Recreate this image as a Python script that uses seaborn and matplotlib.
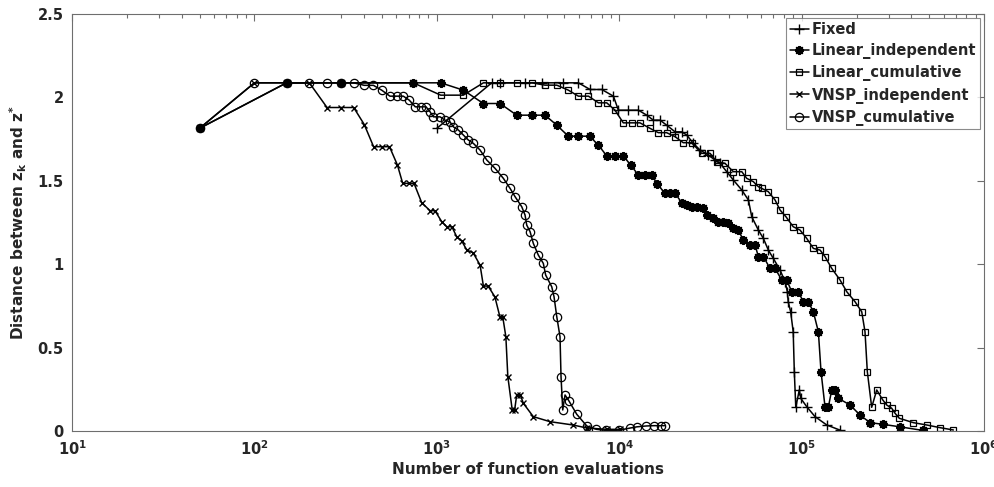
import numpy as np
import pandas as pd
import matplotlib
matplotlib.use("Agg")
import matplotlib.pyplot as plt
from matplotlib.ticker import FixedLocator, FuncFormatter, LogLocator, NullFormatter
import seaborn as sns

# ---------------- data ----------------
fixed_x = [1000, 2000, 2220, 3045, 3760, 4940, 5970, 6920, 8020, 9290, 9890, 11220, 12730,
           14150, 15380, 16740, 18200, 20230, 22020, 23440, 25480, 27720, 30780, 33480, 35700,
           38830, 42230, 46980, 51080, 53250, 57900, 61680, 65660, 69940, 76150, 81160, 83500,
           84410, 87030, 89890, 91150, 92850, 97070, 98860, 106600, 118400, 137300, 162500]
fixed_y = [1.815, 2.088, 2.088, 2.088, 2.088, 2.088, 2.088, 2.048, 2.048, 2.008, 1.924, 1.924, 1.924,
           1.894, 1.864, 1.864, 1.834, 1.794, 1.794, 1.775, 1.725, 1.685, 1.655, 1.625, 1.605,
           1.555, 1.505, 1.445, 1.385, 1.285, 1.205, 1.155, 1.085, 1.035, 0.965, 0.895, 0.835,
           0.775, 0.715, 0.595, 0.356, 0.142, 0.246, 0.196, 0.146, 0.086, 0.036, 0.005]

lin_ind_x = [50, 150, 300, 743, 1050, 1397, 1800, 2220, 2740, 3330, 3920, 4545, 5260, 5970, 6880,
             7690, 8540, 9480, 10520, 11550, 12730, 13840, 15060, 16170, 17820, 18970, 20230,
             22020, 23440, 24940, 26600, 28910, 30200, 32810, 34920, 37240, 39630, 42230, 44970,
             47870, 52140, 55590, 57900, 61680, 67140, 71500, 77800, 82830, 88260, 95940, 102100,
             108800, 115900, 123500, 127700, 134400, 140000, 146200, 152400, 158900, 184200,
             208800, 237000, 279300, 346000, 464300]
lin_ind_y = [1.815, 2.088, 2.088, 2.088, 2.088, 2.044, 1.964, 1.964, 1.894, 1.894, 1.894, 1.834,
             1.768, 1.768, 1.768, 1.714, 1.650, 1.650, 1.650, 1.595, 1.535, 1.535, 1.535, 1.481,
             1.425, 1.425, 1.425, 1.369, 1.355, 1.345, 1.345, 1.335, 1.295, 1.275, 1.255, 1.255,
             1.245, 1.215, 1.205, 1.145, 1.115, 1.115, 1.045, 1.045, 0.975, 0.975, 0.905, 0.905,
             0.835, 0.835, 0.775, 0.775, 0.715, 0.595, 0.356, 0.142, 0.142, 0.246, 0.246, 0.196,
             0.156, 0.096, 0.050, 0.040, 0.025, 0.003]

lin_cum_x = [50, 150, 300, 743, 1050, 1397, 1800, 2220, 2740, 3330, 3920, 4545, 5260, 5970, 6780,
             7690, 8540, 9480, 10520, 11700, 12990, 14750, 16380, 18200, 20230, 22420, 24940,
             28300, 31480, 34250, 38020, 42230, 46980, 50000, 54360, 57900, 60390, 65660, 71500,
             76150, 82000, 89890, 97940, 106600, 115900, 126200, 134400, 146200, 162500, 176800,
             196200, 213500, 222500, 229100, 242100, 258000, 278500, 292600, 311800, 325300,
             343300, 409600, 485000, 573600, 679200]
lin_cum_y = [1.815, 2.088, 2.088, 2.088, 2.014, 2.014, 2.088, 2.088, 2.088, 2.088, 2.074, 2.074,
             2.044, 2.008, 2.008, 1.968, 1.968, 1.924, 1.848, 1.848, 1.848, 1.815, 1.789, 1.789,
             1.765, 1.729, 1.729, 1.665, 1.665, 1.615, 1.605, 1.555, 1.555, 1.515, 1.495, 1.465,
             1.455, 1.435, 1.385, 1.325, 1.285, 1.225, 1.205, 1.155, 1.095, 1.085, 1.045, 0.975,
             0.905, 0.835, 0.775, 0.715, 0.595, 0.356, 0.142, 0.246, 0.186, 0.156, 0.136, 0.106,
             0.076, 0.050, 0.036, 0.020, 0.006]

vnsp_ind_x = [50, 100, 200, 250, 300, 350, 400, 450, 500, 550, 608, 650, 700, 750, 826, 918, 977,
              1064, 1133, 1209, 1285, 1370, 1460, 1580, 1726, 1800, 1910, 2080, 2220, 2300, 2390,
              2450, 2590, 2670, 2740, 2870, 2980, 3380, 4170, 5580, 6640, 8540, 10090]
vnsp_ind_y = [1.815, 2.088, 2.088, 1.940, 1.940, 1.940, 1.838, 1.705, 1.705, 1.705, 1.595, 1.485,
              1.485, 1.485, 1.369, 1.321, 1.321, 1.255, 1.225, 1.225, 1.165, 1.139, 1.085, 1.069,
              0.995, 0.869, 0.869, 0.805, 0.682, 0.682, 0.565, 0.326, 0.126, 0.126, 0.216, 0.216,
              0.166, 0.086, 0.056, 0.036, 0.018, 0.010, 0.010]

vnsp_cum_x = [50, 100, 150, 200, 250, 300, 350, 400, 449, 500, 553, 608, 655, 706, 762, 816, 873,
              918, 957, 1042, 1109, 1181, 1232, 1312, 1397, 1488, 1585, 1725, 1878, 2085, 2316,
              2520, 2685, 2920, 3045, 3110, 3245, 3380, 3600, 3835, 3950, 4265, 4390, 4545, 4735,
              4795, 4900, 5045, 5300, 5850, 6640, 7500, 8500, 10000, 11500, 12500, 14000, 15500,
              17000, 17800]
vnsp_cum_y = [1.815, 2.088, 2.088, 2.088, 2.088, 2.088, 2.088, 2.073, 2.073, 2.043, 2.008, 2.008,
              2.008, 1.984, 1.944, 1.944, 1.944, 1.914, 1.884, 1.884, 1.864, 1.854, 1.824, 1.805,
              1.775, 1.745, 1.725, 1.685, 1.625, 1.575, 1.515, 1.455, 1.405, 1.345, 1.295, 1.235,
              1.195, 1.125, 1.055, 1.005, 0.935, 0.865, 0.805, 0.685, 0.565, 0.326, 0.126, 0.216,
              0.180, 0.100, 0.030, 0.010, 0.003, 0.005, 0.018, 0.025, 0.030, 0.032, 0.032, 0.032]

series_names = ["Fixed", "Linear_independent", "Linear_cumulative",
                "VNSP_independent", "VNSP_cumulative"]
x_label = "Number of function evaluations"
y_label = r"Distance between z$_{\mathbf{k}}$ and z$^{\mathbf{*}}$"
y_ticks = [0, 0.5, 1, 1.5, 2, 2.5]
y_tick_labels = ["0", "0.5", "1", "1.5", "2", "2.5"]

# ---------------- styling ----------------
sns.set_style("white")
plt.rcParams["font.family"] = ["DejaVu Sans"]
plt.rcParams["font.weight"] = "bold"
plt.rcParams["mathtext.fontset"] = "dejavusans"
plt.rcParams["mathtext.default"] = "bf"

fig = plt.figure(figsize=(9.95, 4.87), dpi=100)
ax = fig.add_axes([0.0724, 0.115, 0.9166, 0.856])

data = [(fixed_x, fixed_y), (lin_ind_x, lin_ind_y), (lin_cum_x, lin_cum_y),
        (vnsp_ind_x, vnsp_ind_y), (vnsp_cum_x, vnsp_cum_y)]
markers = ["+", (8, 2, 0), "s", "x", "o"]
msizes = [7, 6.5, 5, 5, 6]
mews = [1.0, 1.4, 0.9, 1.0, 0.9]
mfcs = ["k", "k", "none", "k", "none"]

for name, (xs, ys), mk, ms, mew, mfc in zip(series_names, data, markers, msizes, mews, mfcs):
    df = pd.DataFrame({"x": xs, "y": ys})
    sns.lineplot(data=df, x="x", y="y", ax=ax, color="black", linewidth=1.1,
                 marker=mk, markersize=ms, markerfacecolor=mfc,
                 markeredgecolor="black", markeredgewidth=mew,
                 sort=False, estimator=None, label=name)

ax.set_xscale("log")
ax.set_xlim(10, 1e6)
ax.set_ylim(0, 2.5)
ax.xaxis.set_major_locator(LogLocator(base=10, numticks=10))
ax.xaxis.set_minor_locator(LogLocator(base=10, subs=np.arange(2, 10), numticks=20))
ax.xaxis.set_minor_formatter(NullFormatter())
ax.xaxis.set_major_formatter(FuncFormatter(lambda v, p: r"$\mathbf{10^{%d}}$" % int(round(np.log10(v)))))
ax.yaxis.set_major_locator(FixedLocator(y_ticks))
ax.set_yticklabels(y_tick_labels)

edge = "#6e6e6e"
for s in ax.spines.values():
    s.set_color(edge)
    s.set_linewidth(0.8)
ax.tick_params(axis="both", which="both", direction="in", top=True, right=True,
               color=edge, labelsize=10.5, width=0.8)
ax.tick_params(axis="both", which="major", length=5, pad=6)
ax.tick_params(axis="x", which="minor", length=3)
for lab in ax.get_yticklabels() + ax.get_xticklabels():
    lab.set_fontweight("bold")

ax.set_xlabel(x_label, fontsize=11, fontweight="bold", labelpad=3)
ax.set_ylabel(y_label, fontsize=11, fontweight="bold", labelpad=6)

leg = ax.legend(loc="upper right", frameon=True, fancybox=False,
                handlelength=1.3, handletextpad=0.2, borderpad=0.25, labelspacing=0.42,
                borderaxespad=0.3, prop={"weight": "bold", "size": 10.5})
leg.get_frame().set_edgecolor(edge)
leg.get_frame().set_linewidth(0.8)

fig.savefig("out.png", dpi=100)
